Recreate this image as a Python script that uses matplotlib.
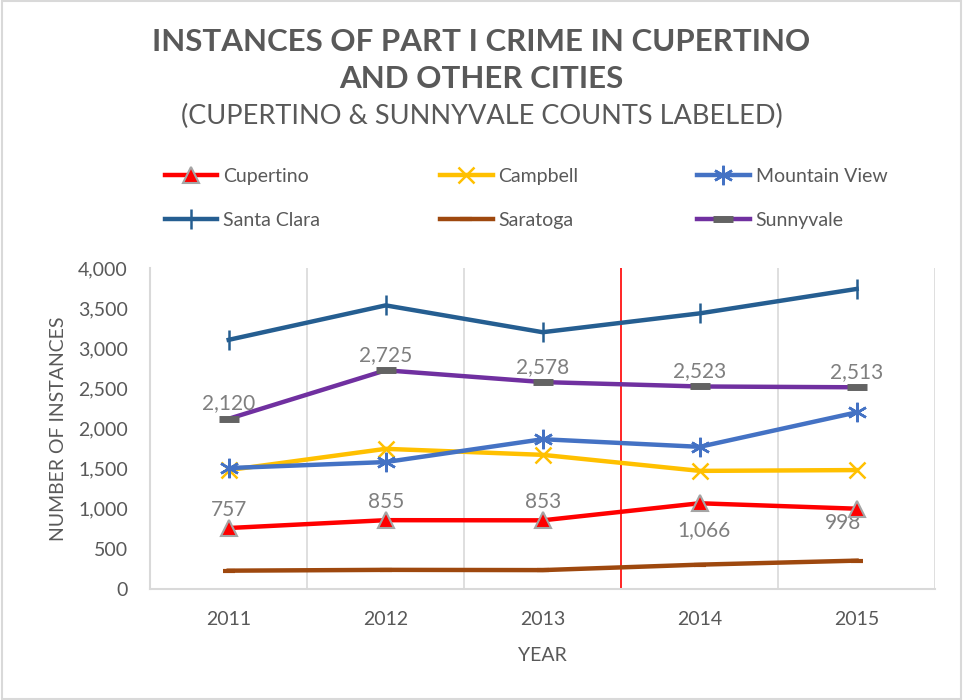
"""Part I crime counts in Cupertino and nearby cities, 2011-2015."""

import matplotlib

matplotlib.use("Agg")

import matplotlib.pyplot as plt
from matplotlib.patches import Rectangle

years = ["2011", "2012", "2013", "2014", "2015"]

cupertino = [757, 855, 853, 1066, 998]
campbell = [1480, 1745, 1670, 1470, 1480]
mountain_view = [1505, 1580, 1865, 1770, 2200]
santa_clara = [3105, 3535, 3200, 3435, 3740]
saratoga = [225, 235, 232, 300, 350]
sunnyvale = [2120, 2725, 2578, 2523, 2513]

plt.rcParams["font.family"] = ["Lato", "DejaVu Sans"]

TEXT = "#595959"
LABEL = "#7F7F7F"

fig = plt.figure(figsize=(9.63, 7.0), dpi=100)
ax = fig.add_axes([0.156, 0.159, 0.815, 0.458])

x = range(len(years))
lw = 3.2

h_cup, = ax.plot(x, cupertino, color="#FF0000", lw=lw, marker="^", ms=11,
                 markerfacecolor="#FF0000", markeredgecolor="#A5A5A5", mew=1.5,
                 label="Cupertino", zorder=5)
h_cam, = ax.plot(x, campbell, color="#FFC000", lw=lw, marker="x", ms=12, mew=1.8,
                 label="Campbell", zorder=4)
h_mv, = ax.plot(x, mountain_view, color="#4472C4", lw=lw, marker=(6, 2, 0),
                ms=14, mew=1.8, label="Mountain View", zorder=4)
h_sc, = ax.plot(x, santa_clara, color="#255E91", lw=lw, marker="|", ms=14,
                mew=1.8, label="Santa Clara", zorder=4)
h_sar, = ax.plot(x, saratoga, color="#9E480E", lw=lw, marker="_", ms=8, mew=3,
                 label="Saratoga", zorder=4)
h_sun, = ax.plot(x, sunnyvale, color="#7030A0", lw=lw, marker="_", ms=15,
                 mew=5, markeredgecolor="#636363", label="Sunnyvale", zorder=4)

# data labels (Excel placed a few of them by hand)
for i, v in enumerate(sunnyvale):
    ax.annotate(f"{v:,}", (i, v), xytext=(0, 11), textcoords="offset points",
                ha="center", va="center", fontsize=15, color=LABEL, zorder=6)
cup_offsets = [(0, 13), (0, 13), (0, 13), (3, -19), (-10, -10)]
for i, v in enumerate(cupertino):
    ax.annotate(f"{v:,}", (i, v), xytext=cup_offsets[i],
                textcoords="offset points", ha="center", va="center",
                fontsize=15, color=LABEL, zorder=4.5)

ax.set_xlim(-0.5, len(years) - 0.5)
ax.set_ylim(0, 4000)
ax.set_yticks(range(0, 4001, 500))
ax.set_yticklabels([f"{t:,}" for t in range(0, 4001, 500)])
ax.set_xticks(list(x))
ax.set_xticklabels(years)

for b in [0.5, 1.5, 3.5, 4.5]:
    ax.axvline(b, color="#D9D9D9", lw=1.2, zorder=1)
ax.axvline(2.5, color="#FF0000", lw=1.2, zorder=2)

for side in ["top", "right"]:
    ax.spines[side].set_visible(False)
for side in ["left", "bottom"]:
    ax.spines[side].set_color("#D9D9D9")
    ax.spines[side].set_linewidth(1.5)
ax.tick_params(length=0, colors=TEXT, labelsize=14)
ax.tick_params(axis="y", pad=16)
ax.tick_params(axis="x", labelsize=14, pad=16)

ax.set_ylabel("NUMBER OF INSTANCES", fontsize=14, color=TEXT, labelpad=8)
ax.set_xlabel("YEAR", fontsize=14, color=TEXT, labelpad=14)

fig.text(0.5, 0.94, "INSTANCES OF PART I CRIME IN CUPERTINO",
         ha="center", va="center", fontsize=22.5, fontweight="bold", color=TEXT)
fig.text(0.5, 0.887, "AND OTHER CITIES",
         ha="center", va="center", fontsize=22.5, fontweight="bold", color=TEXT)
fig.text(0.5, 0.834, "(CUPERTINO & SUNNYVALE COUNTS LABELED)",
         ha="center", va="center", fontsize=19.5, color=TEXT)

# legend: three columns, two rows, filled row by row
columns = [(0.171, [h_cup, h_sc]), (0.457, [h_cam, h_sar]), (0.724, [h_mv, h_sun])]
for xpos, handles in columns:
    leg = fig.legend(handles=handles, loc="upper left",
                     bbox_to_anchor=(xpos, 0.76), frameon=False, fontsize=14,
                     handlelength=2.7, labelspacing=1.4, handletextpad=0.3,
                     borderpad=0, borderaxespad=0, labelcolor=TEXT)

fig.add_artist(Rectangle((0.002, 0.002), 0.996, 0.996, transform=fig.transFigure,
                         fill=False, edgecolor="#D9D9D9", lw=1.5))

fig.savefig("out.png", dpi=100)
